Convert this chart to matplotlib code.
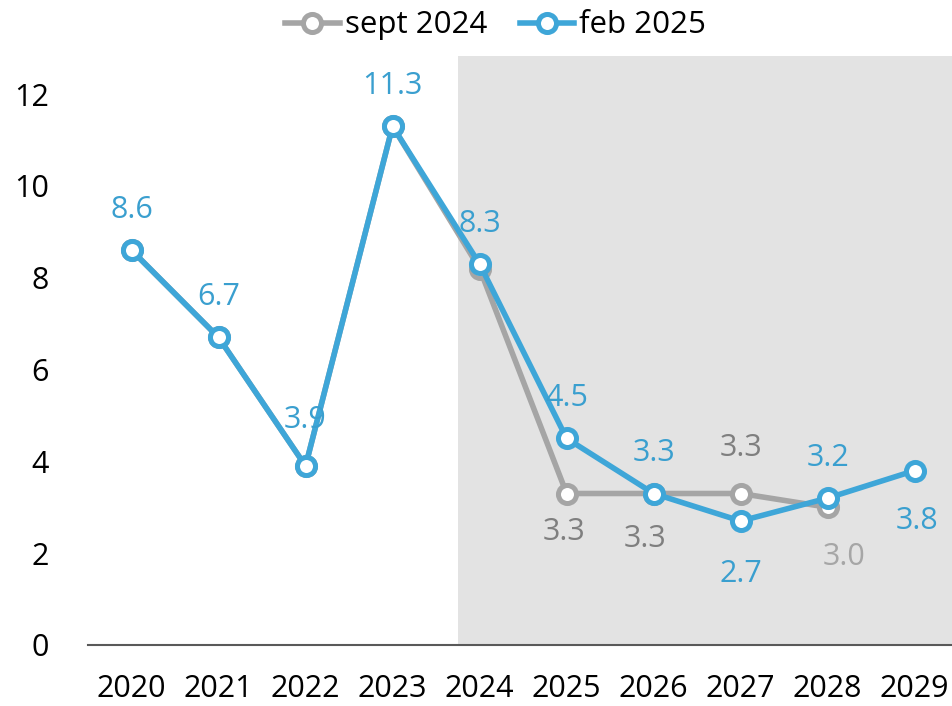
import matplotlib.pyplot as plt

plt.rcParams['font.family'] = ['Open Sans', 'DejaVu Sans']

years = [2020, 2021, 2022, 2023, 2024, 2025, 2026, 2027, 2028, 2029]
sept_years = years[:9]
sept_2024 = [8.6, 6.7, 3.9, 11.3, 8.2, 3.3, 3.3, 3.3, 3.0]
feb_2025 = [8.6, 6.7, 3.9, 11.3, 8.3, 4.5, 3.3, 2.7, 3.2, 3.8]

# which labels are shown, and where (offset in points)
feb_label_pos = [(0, 29), (0, 29), (0, 33), (0, 29), (0, 29), (0, 29), (0, 29), (0, -38), (0, 29), (2, -36)]
sept_label_idx = [5, 6, 7, 8]
sept_label_pos = [(-2, -28), (-6, -33), (0, 33), (12, -36)]
sept_label_col = ['#7f7f7f', '#7f7f7f', '#7f7f7f', '#a6a6a6']

gray = '#a5a5a5'
blue = '#3ea6d8'
blue_txt = '#3a9fcf'

fig = plt.figure(figsize=(9.53, 7.06), dpi=100)
ax = fig.add_axes([88 / 953, 61 / 706, 1 - 88 / 953, (646 - 57) / 706])

ax.axvspan(2023.75, 2030, color='#e3e3e3', zorder=0, lw=0)

ax.plot(sept_years, sept_2024, color=gray, lw=4, marker='o', ms=13,
        mfc='white', mec=gray, mew=3.6, label='sept 2024', zorder=3)
ax.plot(years, feb_2025, color=blue, lw=4, marker='o', ms=13,
        mfc='white', mec=blue, mew=3.6, label='feb 2025', zorder=4)

for x, v, off in zip(years, feb_2025, feb_label_pos):
    ax.annotate(f'{v:.1f}', (x, v), xytext=off, textcoords='offset points',
                ha='center', va='center', fontsize=22, color=blue_txt, zorder=5)
for i, off, c in zip(sept_label_idx, sept_label_pos, sept_label_col):
    ax.annotate(f'{sept_2024[i]:.1f}', (sept_years[i], sept_2024[i]), xytext=off,
                textcoords='offset points', ha='center', va='center',
                fontsize=22, color=c, zorder=5)

ax.set_xlim(2019.5, 2029.44)
ax.set_ylim(0, 12.83)
ax.set_xticks(years)
ax.set_xticklabels([str(y) for y in years])
ax.set_yticks([0, 2, 4, 6, 8, 10, 12])
ax.tick_params(axis='both', length=0, labelsize=22, colors='black')
ax.tick_params(axis='x', pad=21)
ax.tick_params(axis='y', pad=28)
for s in ['top', 'right', 'left']:
    ax.spines[s].set_visible(False)
ax.spines['bottom'].set_color('#595959')
ax.spines['bottom'].set_linewidth(1.5)
ax.spines['bottom'].set_zorder(6)

fig.legend(loc='upper center', bbox_to_anchor=(0.52, 1.025), ncol=2, frameon=False,
           fontsize=22.5, handlelength=1.75, handletextpad=0.15, columnspacing=1.05)

fig.savefig('out.png', dpi=100)
